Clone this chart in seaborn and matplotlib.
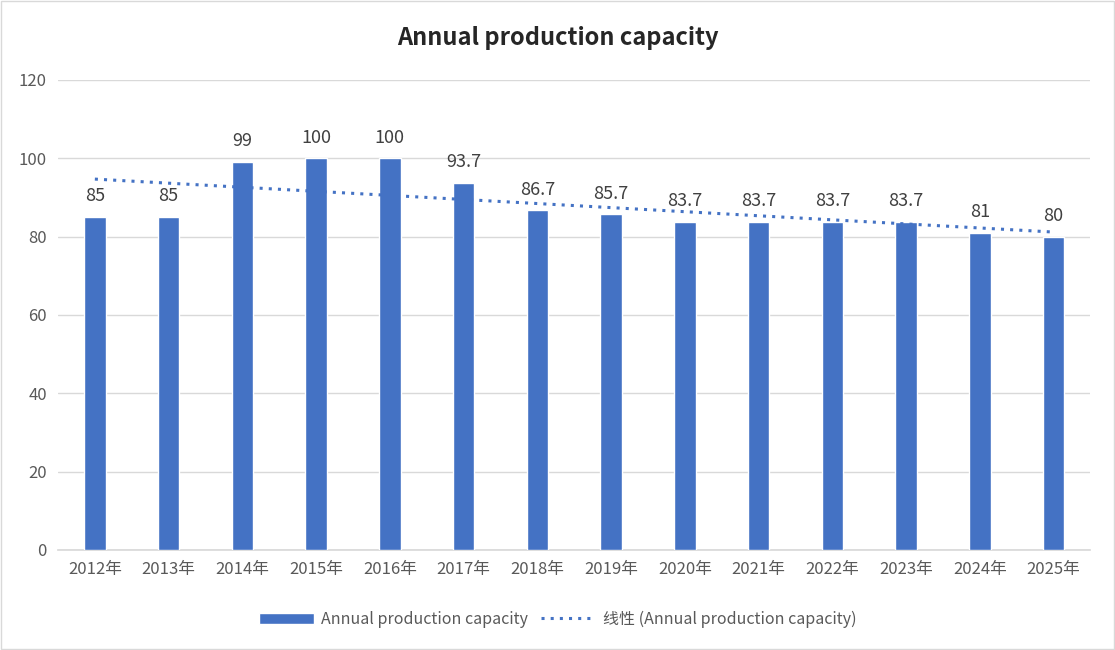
import numpy as np
import pandas as pd
import seaborn as sns
import matplotlib.pyplot as plt

# Data
years = ["2012年", "2013年", "2014年", "2015年", "2016年", "2017年", "2018年",
         "2019年", "2020年", "2021年", "2022年", "2023年", "2024年", "2025年"]
capacity = [85, 85, 99, 100, 100, 93.7, 86.7, 85.7, 83.7, 83.7, 83.7, 83.7, 81, 80]
labels = ["85", "85", "99", "100", "100", "93.7", "86.7", "85.7", "83.7",
          "83.7", "83.7", "83.7", "81", "80"]

df = pd.DataFrame({"year": years, "capacity": capacity})
df["pos"] = np.arange(len(years))

sns.set_theme(style="white")
plt.rcParams["font.family"] = ["Noto Sans CJK SC", "DejaVu Sans"]

blue = "#4472C4"
text_col = "#595959"

fig = plt.figure(figsize=(11.15, 6.5), dpi=100)
ax = fig.add_axes([0.052, 0.154, 0.926, 0.723])

sns.barplot(data=df, x="year", y="capacity", color=blue, width=0.29,
            saturation=1, ax=ax, zorder=3)

# Linear trendline
sns.regplot(data=df, x="pos", y="capacity", scatter=False, ci=None,
            truncate=True, ax=ax, color=blue,
            line_kws={"linestyle": (0, (1, 2)), "linewidth": 2.2, "zorder": 4})

for i, v in enumerate(capacity):
    ax.text(i, v + 3.0, labels[i], ha="center", va="bottom", fontsize=13,
            color="#404040")

ax.set_ylim(0, 120)
ax.set_yticks(range(0, 121, 20))
ax.set_xlim(-0.5, len(years) - 0.5)
ax.yaxis.grid(True, color="#d9d9d9", linewidth=1)
ax.set_axisbelow(True)
for s in ["top", "right", "left"]:
    ax.spines[s].set_visible(False)
ax.spines["bottom"].set_color("#d9d9d9")
ax.tick_params(axis="both", length=0, labelsize=12, colors=text_col, pad=8)
ax.set_xlabel("")
ax.set_ylabel("")

fig.suptitle("Annual production capacity", y=0.96, fontsize=17,
             fontweight="bold", color="#262626")

handles = [ax.containers[0], ax.lines[-1]]
lbls = ["Annual production capacity", "线性 (Annual production capacity)"]
leg = fig.legend(handles, lbls, loc="lower center", bbox_to_anchor=(0.5, 0.012),
                 ncol=2, frameon=False, fontsize=11.5, handlelength=3.5,
                 columnspacing=0.8, handletextpad=0.4)
for t in leg.get_texts():
    t.set_color(text_col)

fig.patches.append(plt.Rectangle((0.001, 0.001), 0.998, 0.998,
                                 transform=fig.transFigure, fill=False,
                                 edgecolor="#d9d9d9", linewidth=1))

fig.savefig("out.png", dpi=100)
